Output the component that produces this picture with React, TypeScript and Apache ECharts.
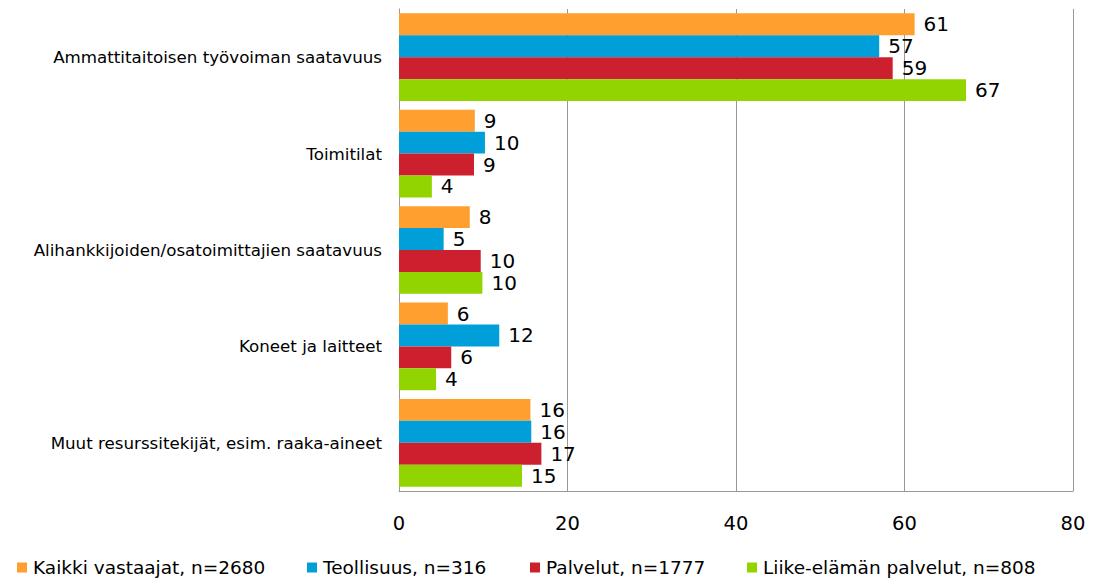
import React, { useEffect, useRef } from "react";
import * as echarts from "echarts";

const categories = [
  "Ammattitaitoisen työvoiman saatavuus",
  "Toimitilat",
  "Alihankkijoiden/osatoimittajien saatavuus",
  "Koneet ja laitteet",
  "Muut resurssitekijät, esim. raaka-aineet",
];
const seriesNames = [
  "Kaikki vastaajat, n=2680",
  "Teollisuus, n=316",
  "Palvelut, n=1777",
  "Liike-elämän palvelut, n=808",
];
const kaikki = [61.2, 9.0, 8.4, 5.8, 15.6];
const teollisuus = [57.0, 10.2, 5.3, 11.9, 15.7];
const palvelut = [58.6, 8.9, 9.7, 6.2, 16.9];
const liike = [67.3, 3.9, 9.9, 4.4, 14.6];
const colors = ["#FF9F2F", "#009FDA", "#CD202F", "#92D400"];
const xTicks = [0, 20, 40, 60, 80];
const legendLefts = [17, 307, 530, 747];

const FONT = "DejaVu Sans";

export default function App() {
  const ref = useRef<HTMLDivElement>(null);
  useEffect(() => {
    if (!ref.current) return;
    const chart = echarts.init(ref.current, undefined, { renderer: "svg" });
    const data = [kaikki, teollisuus, palvelut, liike];
    chart.setOption({
      animation: false,
      textStyle: { fontFamily: FONT },
      grid: { left: 399, right: 23, top: 9, bottom: 89, containLabel: false },
      legend: seriesNames.map((n, i) => ({
        top: 558,
        left: legendLefts[i],
        padding: 0,
        icon: "rect",
        itemWidth: 10,
        itemHeight: 10,
        textStyle: { fontFamily: FONT, fontSize: 18.5, color: "#000", padding: [0, 0, 0, 1] },
        data: [n],
      })),
      xAxis: {
        type: "value",
        min: xTicks[0],
        max: xTicks[xTicks.length - 1],
        interval: 20,
        axisLine: { show: true, lineStyle: { color: "#999" } },
        axisTick: { show: false },
        splitLine: { show: true, lineStyle: { color: "#999", width: 1 } },
        axisLabel: { fontFamily: FONT, fontSize: 19.5, color: "#000", margin: 22 },
      },
      yAxis: {
        type: "category",
        data: categories,
        inverse: true,
        axisLine: { show: true, lineStyle: { color: "#999" } },
        axisTick: { show: false },
        axisLabel: { fontFamily: FONT, fontSize: 16.7, color: "#000", margin: 17 },
        splitLine: { show: false },
      },
      series: data.map((d, i) => ({
        type: "bar",
        name: seriesNames[i],
        data: d,
        barGap: "0%",
        barCategoryGap: "9%",
        itemStyle: { color: colors[i] },
        label: {
          show: true,
          position: "right",
          distance: 9,
          fontFamily: FONT,
          fontSize: 20,
          color: "#000",
          formatter: (p: any) => String(Math.round(p.value)),
        },
      })),
    });
    return () => chart.dispose();
  }, []);
  return (
    <div
      ref={ref}
      style={{ position: "absolute", left: 0, top: 0, width: 1096, height: 580 }}
    />
  );
}
